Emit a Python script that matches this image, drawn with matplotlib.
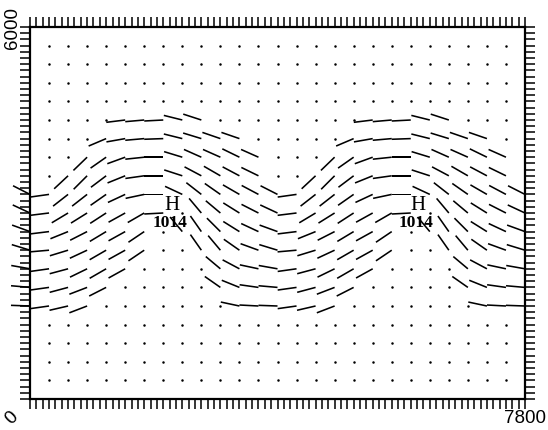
import numpy as np
import matplotlib.pyplot as plt
from matplotlib.ticker import MultipleLocator

# grid of the wind field (m)
x_cols = [0, 300, 600, 900, 1200, 1500, 1800, 2100, 2400, 2700, 3000, 3300, 3600,
          3900, 4200, 4500, 4800, 5100, 5400, 5700, 6000, 6300, 6600, 6900, 7200,
          7500, 7800]
y_rows = [5700, 5400, 5100, 4800, 4500, 4200, 3900, 3600, 3300, 3000, 2700,
          2400, 2100, 1800, 1500, 1200, 900, 600, 300]

# flow direction in degrees (screen), None = calm point (dot)
N = None
wind_dir = [
    [N]*27,
    [N]*27,
    [N]*27,
    [N]*27,
    [N, N, N, N, N, 7, 5, 3, -14, -18, N, N, N,
     N, N, N, N, N, 7, 5, 3, -14, -18, N, N, N, N],
    [N, N, N, N, 23, 10, 5, 2, -14, -17, -19, -19, N,
     N, N, N, N, 23, 10, 5, 2, -14, -17, -19, -19, N, N],
    [N, N, N, 44, 35, 20, 6, 0, -17, -24, -24, -26, -24,
     N, N, N, 44, 35, 20, 6, 0, -17, -24, -24, -26, -24, N],
    [N, N, 43, 45, 37, 22, 8, 0, -18, -28, -30, -28, -26,
     N, N, 43, 45, 37, 22, 8, 0, -18, -28, -30, -28, -26, N],
    [-27, 8, 38, 38, 35, 25, 12, 0, -25, -38, -35, -30, -28,
     -27, 8, 38, 38, 35, 25, 12, 0, -25, -38, -35, -30, -28, -27],
    [-25, 7, 31, 32, 33, 29, 30, 3, N, -50, -40, -32, -27,
     -25, 7, 31, 32, 33, 29, 30, 3, N, -50, -40, -32, -27, -25],
    [-20, 7, 22, 27, 31, 29, 34, N, -50, -55, -45, -32, -25,
     -20, 7, 22, 27, 31, 29, 34, N, -50, -55, -45, -32, -25, -20],
    [-17, 5, 17, 25, 30, 29, 34, N, N, -55, -50, -35, -20,
     -17, 5, 17, 25, 30, 29, 34, N, N, -55, -50, -35, -20, -17],
    [-10, 8, 15, 26, 30, 29, N, N, N, N, -40, -28, -12,
     -10, 8, 15, 26, 30, 29, N, N, N, N, -40, -28, -12, -10],
    [-5, 8, 15, 21, 27, N, N, N, N, N, -35, -22, -8,
     -5, 8, 15, 21, 27, N, N, N, N, N, -35, -22, -8, -5],
    [-2, 8, 13, 21, N, N, N, N, N, N, N, -12, -3,
     -2, 8, 13, 21, N, N, N, N, N, N, N, -12, -3, -2],
    [N]*27,
    [N]*27,
    [N]*27,
    [N]*27,
]

highs_x = [2230, 6110]
highs_y = [3130, 3130]
highs_p = ["1014", "1014"]

fig = plt.figure(figsize=(5.48, 4.31), dpi=100)
ax = fig.add_axes([30/548, 1-400/431, 495/548, 372/431])

qx, qy, qu, qv, dx, dy = [], [], [], [], [], []
for j, y in enumerate(y_rows):
    for i, x in enumerate(x_cols):
        a = wind_dir[j][i]
        if a is None:
            if 0 < x < 7800:
                dx.append(x)
                dy.append(y)
        else:
            qx.append(x)
            qy.append(y)
            qu.append(np.cos(np.radians(a)))
            qv.append(np.sin(np.radians(a)))

ax.plot(dx, dy, 'o', color='k', ms=1.8, mec='none')
q = ax.quiver(qx, qy, qu, qv, pivot='tip', angles='uv', scale_units='x',
              scale=1/300, headwidth=0, headlength=0, headaxislength=0,
              width=0.0032, color='k')
q.set_clip_on(False)

for hx, hy, p in zip(highs_x, highs_y, highs_p):
    ax.text(hx, hy, "H", family='Liberation Serif', fontsize=15,
            ha='center', va='center')
    ax.text(hx - 20, hy - 280, p, family='Liberation Serif', fontsize=12.5,
            fontweight='bold', ha='center', va='center')

ax.set_xlim(0, 7800)
ax.set_ylim(0, 6000)
ax.xaxis.set_major_locator(MultipleLocator(100))
ax.yaxis.set_major_locator(MultipleLocator(100))
ax.tick_params(direction='out', length=7, width=1.1, top=True, right=True,
               labelbottom=False, labelleft=False)
for s in ax.spines.values():
    s.set_linewidth(1.6)

lab = dict(family='Liberation Sans', fontsize=13.5, xycoords='data',
           textcoords='offset pixels', ha='center', va='center',
           annotation_clip=False)
ax.annotate("6000", xy=(0, 6000), xytext=(-18, 0), rotation=90, **lab)
ax.annotate("7800", xy=(7800, 0), xytext=(0, -19), **lab)
ax.annotate("0", xy=(0, 0), xytext=(-18, -18), rotation=45, **lab)

fig.savefig("out.png", dpi=100)
